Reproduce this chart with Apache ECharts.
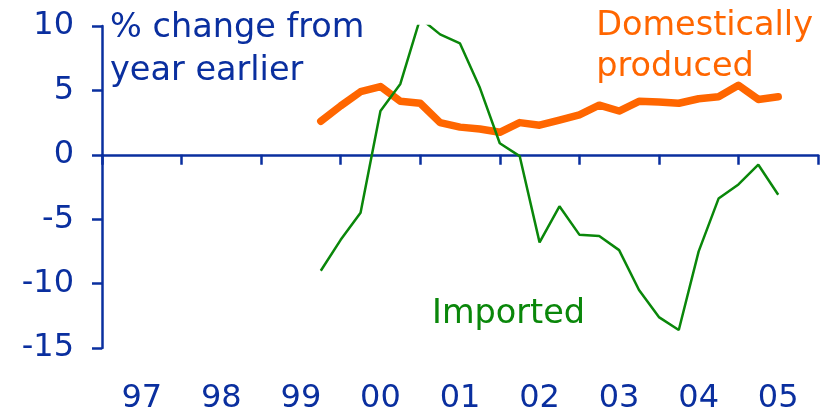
<!DOCTYPE html>
<html>
<head>
<meta charset="utf-8">
<script src="https://cdn.jsdelivr.net/npm/echarts@6/dist/echarts.min.js"></script>
<style>
  html, body { margin: 0; padding: 0; background: #fff; }
  #chart { width: 829px; height: 415px; }
</style>
</head>
<body>
<div id="chart"></div>
<script>
// Year labels shown under the chart, one per calendar year
const yearLabels = ['97', '98', '99', '00', '01', '02', '03', '04', '05'];

// Quarterly observations, from 1999 Q4 to 2005 Q3 (x in fractional years)
const quarters = [
  1999.75, 2000.00, 2000.25, 2000.50, 2000.75, 2001.00, 2001.25, 2001.50,
  2001.75, 2002.00, 2002.25, 2002.50, 2002.75, 2003.00, 2003.25, 2003.50,
  2003.75, 2004.00, 2004.25, 2004.50, 2004.75, 2005.00, 2005.25, 2005.50
];

// % change from year earlier
const domestic = [
  2.6, 3.8, 4.9, 5.3, 4.15, 4.0, 2.5, 2.15,
  2.0, 1.75, 2.5, 2.3, 2.7, 3.1, 3.85, 3.4,
  4.15, 4.1, 4.0, 4.35, 4.5, 5.4, 4.3, 4.5
];
const imported = [
  -9.0, -6.6, -4.5, 3.4, 5.5, 10.6, 9.35, 8.65,
  5.2, 0.9, -0.1, -6.8, -4.0, -6.2, -6.3, -7.4,
  -10.5, -12.6, -13.6, -7.5, -3.4, -2.3, -0.77, -3.1
];

const yTicks = { min: -15, max: 10, step: 5 };

const BLUE = '#0a2f9f';
const ORANGE = '#ff6600';
const GREEN = '#0a870a';
const FONT = 'DejaVu Sans';

const pair = (xs, ys) => xs.map((x, i) => [x, ys[i]]);

const chart = echarts.init(document.getElementById('chart'), null, { renderer: 'canvas' });

chart.setOption({
  animation: false,
  backgroundColor: '#ffffff',
  grid: { left: 102, right: 11, top: 26, bottom: 65, containLabel: false },
  xAxis: [
    {
      // zero line with year ticks
      type: 'value',
      min: 1997,
      max: 2006,
      interval: 1,
      axisLine: { show: true, onZero: true, lineStyle: { color: BLUE, width: 2.5 } },
      axisTick: { show: true, length: 10, lineStyle: { color: BLUE, width: 2.5 } },
      axisLabel: { show: false },
      splitLine: { show: false }
    },
    {
      // year names centred between ticks, along the bottom
      type: 'category',
      position: 'bottom',
      data: yearLabels,
      boundaryGap: true,
      axisLine: { show: false, onZero: false },
      axisTick: { show: false },
      axisLabel: {
        show: true,
        color: BLUE,
        fontFamily: FONT,
        fontSize: 32,
        margin: 35
      },
      splitLine: { show: false }
    }
  ],
  yAxis: {
    type: 'value',
    min: yTicks.min,
    max: yTicks.max,
    interval: yTicks.step,
    axisLine: { show: true, onZero: false, lineStyle: { color: BLUE, width: 2.5 } },
    axisTick: { show: true, length: 10, lineStyle: { color: BLUE, width: 2.5 } },
    axisLabel: {
      color: BLUE,
      fontFamily: FONT,
      fontSize: 32,
      margin: 28
    },
    splitLine: { show: false }
  },
  series: [
    {
      name: 'Imported',
      type: 'line',
      xAxisIndex: 0,
      data: pair(quarters, imported),
      showSymbol: false,
      clip: true,
      lineStyle: { color: GREEN, width: 2.5 },
      z: 3
    },
    {
      name: 'Domestically produced',
      type: 'line',
      xAxisIndex: 0,
      data: pair(quarters, domestic),
      showSymbol: false,
      clip: true,
      lineStyle: { color: ORANGE, width: 7.5, join: 'round', cap: 'round' },
      z: 2
    }
  ],
  graphic: [
    {
      type: 'text',
      left: 110,
      top: 7,
      style: {
        text: '% change from\nyear earlier',
        font: '33.5px "' + FONT + '"',
        lineHeight: 43,
        fill: BLUE
      }
    },
    {
      type: 'text',
      right: 16,
      top: 6,
      style: {
        text: 'Domestically\nproduced',
        font: '33.5px "' + FONT + '"',
        lineHeight: 41,
        align: 'right',
        fill: ORANGE
      }
    },
    {
      type: 'text',
      left: 432,
      top: 293,
      style: {
        text: 'Imported',
        font: '33.5px "' + FONT + '"',
        lineHeight: 43,
        fill: GREEN
      }
    }
  ]
});
</script>
</body>
</html>
